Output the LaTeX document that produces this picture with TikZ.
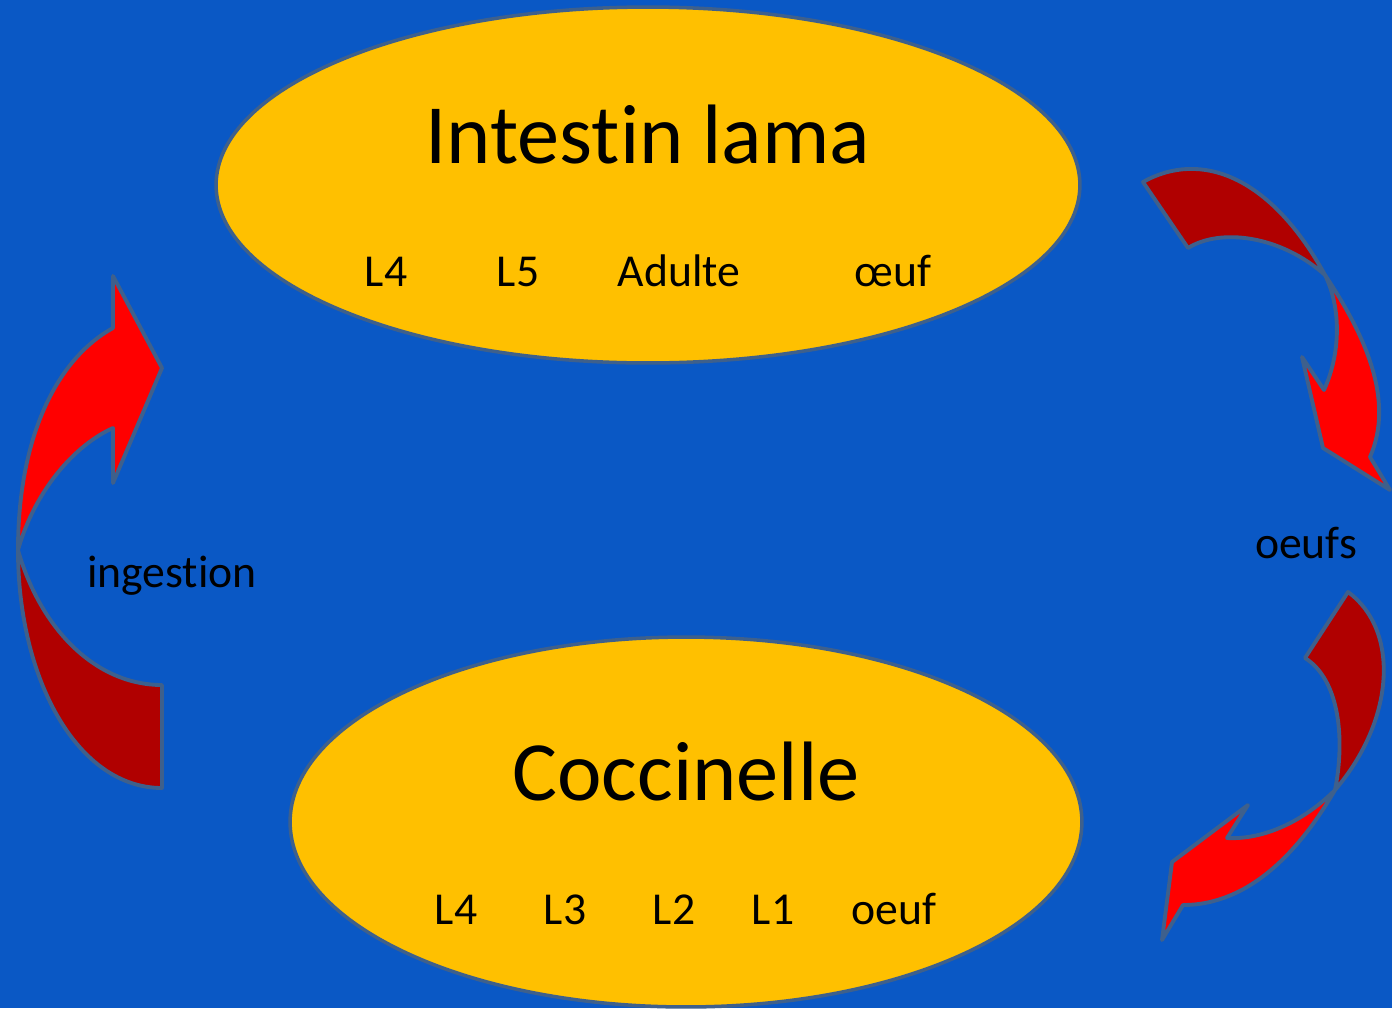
\documentclass[tikz,border=0pt]{standalone}
\usepackage{fontspec}
\setmainfont{Carlito}[Ligatures={NoCommon}]
\usetikzlibrary{shapes.geometric}
\definecolor{slide}{RGB}{10,88,197}
\definecolor{gold}{RGB}{255,192,0}
\definecolor{rim}{RGB}{62,96,140}
\definecolor{darkred}{RGB}{176,0,0}
\tikzset{
  host/.style={ellipse, draw=rim, line width=2pt, fill=gold, inner sep=0pt},
  stage/.style={anchor=base, font=\fontsize{26}{30}\selectfont},
  title/.style={anchor=base, font=\fontsize{48}{56}\selectfont},
  band/.style={draw=rim, line width=2.2pt, line join=round}
}
\begin{document}
\begin{tikzpicture}[x=0.02cm, y=-0.02cm]
\clip (0,0) rectangle (1392,1008);
\fill[slide] (0,0) rectangle (1392,1008);
%
\node[host, minimum width=17.28cm, minimum height=7.12cm](lama) at (648,185) {};
\node[title](lamatitle) at (648,163) {Intestin lama};
\node[stage](lamaL4) at (386,286) {L4};
\node[stage](lamaL5) at (518,286) {L5};
\node[stage](adult) at (679,286) {Adulte};
\node[stage](lamaegg) at (893,286) {œuf};
%
\node[host, minimum width=15.84cm, minimum height=7.4cm](cocc) at (686,822) {};
\node[title](cocctitle) at (686,800) {Coccinelle};
\node[stage](coccL4) at (456,924) {L4};
\node[stage](coccL3) at (565,924) {L3};
\node[stage](coccL2) at (674,924) {L2};
\node[stage](coccL1) at (773,924) {L1};
\node[stage](coccegg) at (894,924) {oeuf};
%
\node[stage](ingest) at (172,587) {ingestion};
\node[stage](eggs) at (1306,558) {oeufs};
%
% left arrow: ingestion
\filldraw[band, fill=darkred] (162,685) -- (162,788)
  .. controls (78,788) and (18,680) .. (18,550)
  .. controls (40,628) and (95,685) .. (162,685) -- cycle;
\filldraw[band, fill=red] (18,550) .. controls (18,440) and (55,360) .. (113,328)
  -- (113,276) -- (162,368) -- (113,483) -- (113,428)
  .. controls (75,445) and (35,490) .. (18,550) -- cycle;
%
% right arrow, top
\filldraw[band, fill=darkred] (1143,182) .. controls (1200,150) and (1270,175) .. (1325,275)
  .. controls (1280,235) and (1220,228) .. (1188,248) -- cycle;
\filldraw[band, fill=red] (1325,275) .. controls (1365,335) and (1395,400) .. (1370,457)
  -- (1390,490) -- (1323,448) -- (1302,357) -- (1324,390)
  .. controls (1340,355) and (1342,310) .. (1325,275) -- cycle;
%
% right arrow, bottom
\filldraw[band, fill=darkred] (1348,592) .. controls (1400,630) and (1395,720) .. (1335,790)
  .. controls (1345,740) and (1340,680) .. (1305,658) -- cycle;
\filldraw[band, fill=red] (1335,790) .. controls (1300,850) and (1250,905) .. (1183,905)
  -- (1162,940) -- (1172,862) -- (1248,805) -- (1227,838)
  .. controls (1265,840) and (1305,820) .. (1335,790) -- cycle;
\end{tikzpicture}
\end{document}
